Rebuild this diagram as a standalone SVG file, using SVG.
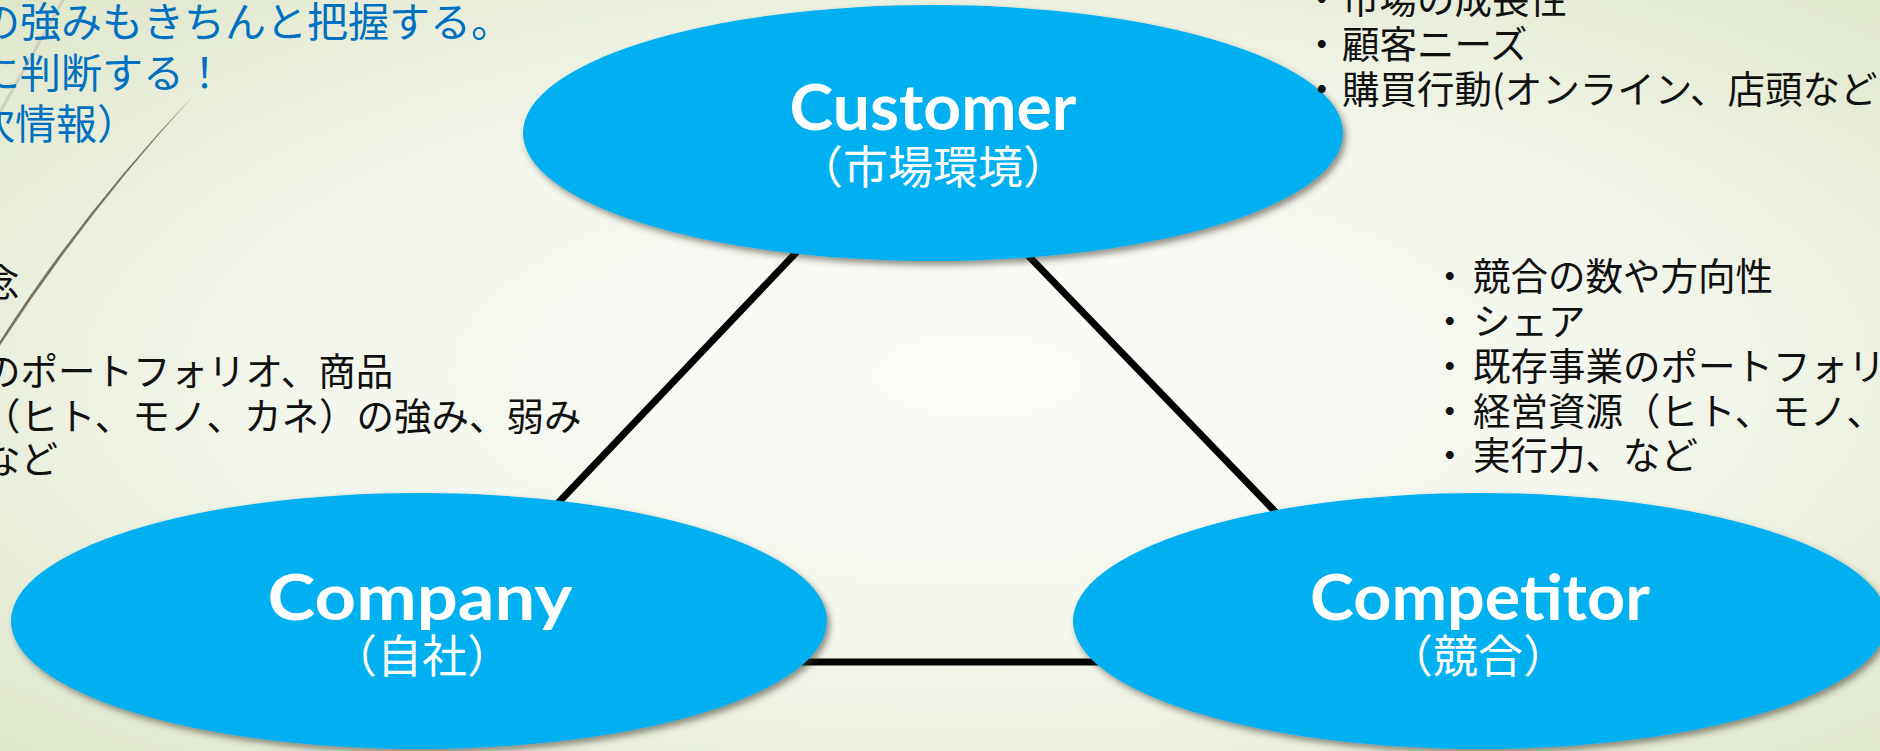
<svg xmlns="http://www.w3.org/2000/svg" width="1880" height="751" viewBox="0 0 1880 751">
  <defs>
    <radialGradient id="bg" cx="0.52" cy="0.5" r="0.72">
      <stop offset="0" stop-color="#fbfcf8"/>
      <stop offset="0.5" stop-color="#f3f6ec"/>
      <stop offset="1" stop-color="#dfe7cb"/>
    </radialGradient>
    <filter id="shadow" x="-10%" y="-10%" width="125%" height="130%">
      <feDropShadow dx="3" dy="4" stdDeviation="3" flood-color="#3a3a30" flood-opacity="0.55"/>
    </filter>
    <style>
      .node { fill: #00b0f0; filter: url(#shadow); }
      .title { font-family: Lato, "Liberation Sans", sans-serif; font-weight: 700; font-size: 64px; fill: #ffffff; text-anchor: middle; }
      .sub { font-family: "Noto Sans CJK JP", sans-serif; font-size: 45px; fill: #ffffff; text-anchor: middle; }
      .edge { stroke: #000000; stroke-width: 7; fill: none; }
      .blue { font-family: "Noto Sans CJK JP", sans-serif; font-size: 41px; fill: #0070c0; }
      .body { font-family: "Noto Sans CJK JP", sans-serif; font-size: 37.5px; fill: #111111; }
    </style>
  </defs>

  <rect x="0" y="0" width="1880" height="751" fill="url(#bg)"/>

  <g id="decor">
    <path d="M63,0 L0,112" stroke="#cdd0bf" stroke-width="3" fill="none"/>
    <path d="M194,95 Q83.5,210.5 0,341 L0,345.5 Q86.5,212.5 194,95 Z" fill="#7a7560"/>
  </g>

  <g id="connectors">
    <line class="edge" x1="810" y1="238" x2="540" y2="522"/>
    <line class="edge" x1="1017" y1="244" x2="1290" y2="527"/>
    <line class="edge" x1="780" y1="662" x2="1110" y2="662"/>
  </g>

  <g id="node-customer">
    <ellipse class="node" cx="933" cy="133" rx="410" ry="128"/>
    <text class="title" x="933" y="130" textLength="287" lengthAdjust="spacingAndGlyphs">Customer</text>
    <text class="sub" x="933" y="184">（市場環境）</text>
  </g>

  <g id="node-company">
    <ellipse class="node" cx="419" cy="621" rx="408" ry="128"/>
    <text class="title" x="420" y="620" textLength="305" lengthAdjust="spacingAndGlyphs">Company</text>
    <text class="sub" x="422" y="673">（自社）</text>
  </g>

  <g id="node-competitor">
    <ellipse class="node" cx="1480" cy="621" rx="407" ry="128"/>
    <text class="title" x="1480" y="620" textLength="340" lengthAdjust="spacingAndGlyphs">Competitor</text>
    <text class="sub" x="1478" y="673">（競合）</text>
  </g>

  <g id="text-left">
    <text class="blue" x="-21" y="37">の強みもきちんと把握する。</text>
    <text class="blue" x="-21" y="88">に判断する！</text>
    <text class="blue" x="-26" y="139">次情報）</text>
    <text class="body" x="-18" y="296">念</text>
    <text class="body" x="-17" y="385">のポートフォリオ、商品</text>
    <text class="body" x="-17" y="430">（ヒト、モノ、カネ）の強み、弱み</text>
    <text class="body" x="-17" y="473">など</text>
  </g>

  <g id="text-customer">
    <text class="body" y="13"><tspan x="1303">・</tspan><tspan x="1342">市場の成長性</tspan></text>
    <text class="body" y="58"><tspan x="1303">・</tspan><tspan x="1342">顧客ニーズ</tspan></text>
    <text class="body" y="103"><tspan x="1303">・</tspan><tspan x="1342">購買行動(オンライン、店頭など</tspan></text>
  </g>

  <g id="text-competitor">
    <text class="body" y="290"><tspan x="1431">・</tspan><tspan x="1473">競合の数や方向性</tspan></text>
    <text class="body" y="335"><tspan x="1431">・</tspan><tspan x="1473">シェア</tspan></text>
    <text class="body" y="380"><tspan x="1431">・</tspan><tspan x="1473">既存事業のポートフォリ</tspan></text>
    <text class="body" y="425"><tspan x="1431">・</tspan><tspan x="1473">経営資源（ヒト、モノ、</tspan></text>
    <text class="body" y="469"><tspan x="1431">・</tspan><tspan x="1473">実行力、など</tspan></text>
  </g>
</svg>
